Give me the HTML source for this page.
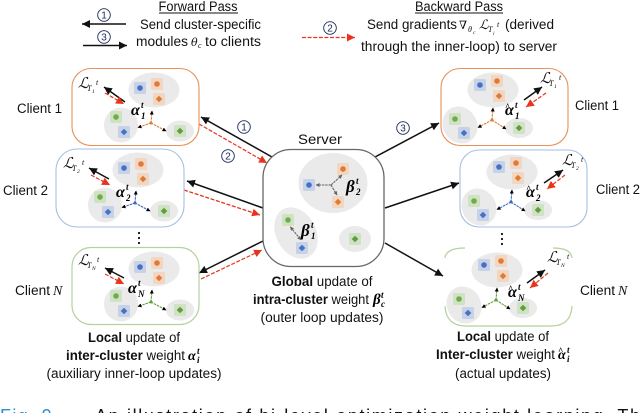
<!DOCTYPE html>
<html><head><meta charset="utf-8"><style>
html,body{margin:0;padding:0;background:#fff;width:640px;height:413px;overflow:hidden}
svg{display:block;filter:blur(.35px)}
text{font-family:"Liberation Sans",sans-serif;font-size:13.5px;fill:#111}
.c{text-anchor:middle}
.m{font-family:"DejaVu Serif","Liberation Serif",serif;font-style:italic}
.a{font-family:"Liberation Serif",serif;font-style:italic;font-weight:bold;font-size:16px;fill:#000}
.s{font-family:"Liberation Serif",serif;font-style:italic;font-weight:bold;font-size:9px;fill:#000}
.L{font-family:"DejaVu Serif",serif;font-style:italic;font-size:15px;fill:#111}
.l{font-family:"Liberation Serif",serif;font-style:italic;font-size:8px;fill:#111}
.n{font-size:10px;text-anchor:middle;fill:#1b2a5a}
.k{stroke:#111;stroke-width:1.5;fill:none}
.r{stroke:#e8341c;stroke-width:1.2;stroke-dasharray:4 1.6;fill:none}
</style></head><body>
<svg width="640" height="413" viewBox="0 0 640 413" xmlns="http://www.w3.org/2000/svg">
<defs>
<marker id="bk" markerUnits="userSpaceOnUse" markerWidth="10" markerHeight="10" refX="8" refY="4" orient="auto"><path d="M0 0L8 4L0 8Z" fill="#111"/></marker>
<marker id="rd" markerUnits="userSpaceOnUse" markerWidth="10" markerHeight="10" refX="8" refY="4" orient="auto"><path d="M0 0L8 4L0 8Z" fill="#e8341c"/></marker>
<marker id="sm" markerUnits="userSpaceOnUse" markerWidth="5" markerHeight="5" refX="3.5" refY="2" orient="auto"><path d="M0 0L4 2L0 4Z" fill="context-stroke"/></marker>
<marker id="gy" markerUnits="userSpaceOnUse" markerWidth="5" markerHeight="5" refX="3.5" refY="2" orient="auto-start-reverse"><path d="M0 0L4 2L0 4Z" fill="#666"/></marker>
<g id="bs"><rect x="-6" y="-6" width="12" height="12" rx="1.5" fill="#c7d1e8"/><circle r="2.8" fill="#4472c4"/></g>
<g id="bd"><rect x="-6" y="-6" width="12" height="12" rx="1.5" fill="#c7d1e8"/><path d="M0-3.3L3.3 0L0 3.3L-3.3 0Z" fill="#4472c4"/></g>
<g id="os"><rect x="-6" y="-6" width="12" height="12" rx="1.5" fill="#f3d6c1"/><circle r="2.8" fill="#e07b35"/></g>
<g id="od"><rect x="-6" y="-6" width="12" height="12" rx="1.5" fill="#f3d6c1"/><path d="M0-3.3L3.3 0L0 3.3L-3.3 0Z" fill="#e07b35"/></g>
<g id="gs"><rect x="-6" y="-6" width="12" height="12" rx="1.5" fill="#cfe2c4"/><circle r="2.8" fill="#70ad47"/></g>
<g id="gd"><rect x="-6" y="-6" width="12" height="12" rx="1.5" fill="#cfe2c4"/><path d="M0-3.3L3.3 0L0 3.3L-3.3 0Z" fill="#5f9e3a"/></g>
<g id="cl">
<ellipse cx="82" cy="22" rx="25.5" ry="17.5" fill="#eaeaea"/>
<ellipse cx="49" cy="57" rx="17" ry="17.5" fill="#eaeaea"/>
<ellipse cx="108" cy="63" rx="14" ry="10.5" fill="#eaeaea"/>
<use href="#bs" x="68" y="20"/><use href="#os" x="85" y="16"/><use href="#od" x="87" y="31"/>
<use href="#gs" x="44" y="49"/><use href="#bd" x="52" y="64"/><use href="#gd" x="108" y="63"/>
<g stroke="currentColor" stroke-width="1.1" stroke-dasharray="2.5 .8" fill="none">
<path d="M79 55L80 43" marker-end="url(#sm)"/><path d="M79 55L66 59.5" marker-end="url(#sm)"/><path d="M79 55L94 63" marker-end="url(#sm)"/>
</g>
<circle cx="79" cy="55" r="1.5" fill="currentColor"/>
</g>
<g id="cr">
<ellipse cx="52" cy="22" rx="25.5" ry="17.5" fill="#eaeaea"/>
<ellipse cx="19" cy="57" rx="17" ry="19" transform="rotate(-30 19 57)" fill="#eaeaea"/>
<ellipse cx="78" cy="60" rx="14" ry="10" fill="#eaeaea"/>
<use href="#bs" x="39" y="17"/><use href="#os" x="56" y="13"/><use href="#od" x="58" y="28"/>
<use href="#gs" x="14" y="51"/><use href="#bd" x="23" y="65"/><use href="#gd" x="78" y="60"/>
<g stroke="currentColor" stroke-width="1.1" stroke-dasharray="2.5 .8" fill="none">
<path d="M51 52L52 40" marker-end="url(#sm)"/><path d="M51 52L37 59.5" marker-end="url(#sm)"/><path d="M51 52L65 61" marker-end="url(#sm)"/>
</g>
<circle cx="51" cy="52" r="1.5" fill="currentColor"/>
</g>
</defs>

<!-- header -->
<text x="198" y="11" class="c" textLength="79" lengthAdjust="spacingAndGlyphs">Forward Pass</text>
<path d="M159 13H238" stroke="#111" stroke-width="1"/>
<text x="140" y="29" textLength="121" lengthAdjust="spacingAndGlyphs">Send cluster-specific</text>
<text x="136" y="46" textLength="52" lengthAdjust="spacingAndGlyphs">modules</text>
<text x="191" y="46" class="m" style="font-size:11px">θ</text>
<text x="198" y="48" class="l">c</text>
<text x="205" y="46" textLength="56" lengthAdjust="spacingAndGlyphs">to clients</text>
<circle cx="104" cy="15" r="6.3" fill="#fff" stroke="#1b2a5a" stroke-width=".9"/><text x="104" y="18.5" class="n">1</text>
<circle cx="104" cy="37" r="6.3" fill="#fff" stroke="#1b2a5a" stroke-width=".9"/><text x="104" y="40.5" class="n">3</text>
<path d="M126 24H82" class="k" marker-end="url(#bk)"/>
<path d="M83 45.5H127" class="k" marker-end="url(#bk)"/>

<text x="459" y="11" class="c" textLength="88" lengthAdjust="spacingAndGlyphs">Backward Pass</text>
<path d="M415 13H503" stroke="#111" stroke-width="1"/>
<text x="367" y="29" textLength="90" lengthAdjust="spacingAndGlyphs">Send gradients</text>
<text x="459" y="29" class="m" style="font-size:11.5px">∇</text>
<text x="468" y="32" class="l">θ</text><text x="473" y="34" class="l" style="font-size:5.5px">c</text>
<text x="479" y="29" class="L" style="font-size:13px">ℒ</text>
<text x="488" y="32" class="l">T</text><text x="493" y="35" class="l" style="font-size:5.5px">i</text><text x="497" y="27" class="l">t</text>
<text x="505" y="29" textLength="49" lengthAdjust="spacingAndGlyphs">(derived</text>
<text x="361" y="51" textLength="196" lengthAdjust="spacingAndGlyphs">through the inner-loop) to server</text>
<circle cx="330" cy="28" r="6.3" fill="#fff" stroke="#1b2a5a" stroke-width=".9"/><text x="330" y="31.5" class="n">2</text>
<path d="M302 37.5H355" class="r" marker-end="url(#rd)"/>

<!-- connectors -->
<path d="M272 157L201 117" class="k" marker-end="url(#bk)"/>
<path d="M199 124L267 163" class="r" marker-end="url(#rd)"/>
<path d="M263 208L187 181" class="k" marker-end="url(#bk)"/>
<path d="M184 190L260 215" class="r" marker-end="url(#rd)"/>
<path d="M263 241L199 273" class="k" marker-end="url(#bk)"/>
<path d="M201 279L262 250" class="r" marker-end="url(#rd)"/>
<path d="M375 157L439 123" class="k" marker-end="url(#bk)"/>
<path d="M385 208L459 183" class="k" marker-end="url(#bk)"/>
<path d="M385 243L443 276" class="k" marker-end="url(#bk)"/>
<circle cx="244" cy="127" r="6.3" fill="#fff" stroke="#1b2a5a" stroke-width=".9"/><text x="244" y="130.5" class="n">1</text>
<circle cx="228" cy="156" r="6.3" fill="#fff" stroke="#1b2a5a" stroke-width=".9"/><text x="228" y="159.5" class="n">2</text>
<circle cx="403" cy="128" r="6.3" fill="#fff" stroke="#1b2a5a" stroke-width=".9"/><text x="403" y="131.5" class="n">3</text>

<!-- left clients -->
<rect x="72" y="68.5" width="127" height="77" rx="19" fill="#fff" stroke="#e8915a" stroke-width="1.1"/>
<use href="#cl" x="72" y="68" color="#e07b35"/>
<rect x="56" y="149" width="128" height="78" rx="21" fill="#fff" stroke="#a6bfe3" stroke-width="1.1"/>
<use href="#cl" x="56" y="148" color="#3f66c0"/>
<rect x="72" y="247.5" width="127" height="77" rx="19" fill="#fff" stroke="#b4d19e" stroke-width="1.2"/>
<use href="#cl" x="72" y="247" color="#5f9e3a"/>

<!-- right clients -->
<rect x="441" y="68.5" width="127" height="77" rx="19" fill="#fff" stroke="#e8915a" stroke-width="1.1"/>
<use href="#cr" x="441" y="68" color="#e07b35"/>
<rect x="460" y="150" width="127" height="77" rx="19" fill="#fff" stroke="#a6bfe3" stroke-width="1.1"/>
<use href="#cr" x="460" y="150" color="#3f66c0"/>
<path d="M445 258Q446 248 465 248M572 258Q571 248 553 248M445 306Q446 326 466 326H551Q571 326 572 306" fill="none" stroke="#b4d19e" stroke-width="1.2"/>
<use href="#cr" x="445" y="248" color="#5f9e3a"/>

<!-- client arrows -->
<g>
<path d="M125 102L104 87" class="k" marker-end="url(#bk)"/><path d="M105 93L124 104" class="r" marker-end="url(#rd)"/>
<path d="M109 179L89 168" class="k" marker-end="url(#bk)"/><path d="M91 175L110 185" class="r" marker-end="url(#rd)"/>
<path d="M124 278L105 268" class="k" marker-end="url(#bk)"/><path d="M105 274L124 284" class="r" marker-end="url(#rd)"/>
<path d="M524 100L542 87" class="k" marker-end="url(#bk)"/><path d="M546 93L526 107" class="r" marker-end="url(#rd)"/>
<path d="M544 183L563 170" class="k" marker-end="url(#bk)"/><path d="M565 175L547 189" class="r" marker-end="url(#rd)"/>
<path d="M527 283L545 270" class="k" marker-end="url(#bk)"/><path d="M548 273L530 288" class="r" marker-end="url(#rd)"/>
</g>

<!-- loss labels -->
<text x="78" y="88" class="L">ℒ</text><text x="87" y="91" class="l">T</text><text x="92" y="93" class="l" style="font-size:5.5px">1</text><text x="96" y="85" class="l">t</text>
<text x="63" y="168" class="L">ℒ</text><text x="72" y="171" class="l">T</text><text x="77" y="173" class="l" style="font-size:5.5px">2</text><text x="82" y="165" class="l">t</text>
<text x="78" y="265" class="L">ℒ</text><text x="87" y="268" class="l">T</text><text x="92" y="270" class="l" style="font-size:5.5px">N</text><text x="97" y="262" class="l">t</text>
<text x="540" y="83" class="L">ℒ</text><text x="549" y="86" class="l">T</text><text x="554" y="88" class="l" style="font-size:5.5px">1</text><text x="559" y="80" class="l">t</text>
<text x="562" y="165" class="L">ℒ</text><text x="571" y="168" class="l">T</text><text x="576" y="170" class="l" style="font-size:5.5px">2</text><text x="581" y="162" class="l">t</text>
<text x="547" y="262" class="L">ℒ</text><text x="556" y="265" class="l">T</text><text x="561" y="267" class="l" style="font-size:5.5px">N</text><text x="567" y="259" class="l">t</text>

<!-- alpha labels -->
<text x="131" y="115" class="a">α</text><text x="141" y="108" class="s">t</text><text x="141" y="119" class="s">1</text>
<text x="116" y="197" class="a">α</text><text x="126" y="190" class="s">t</text><text x="126" y="201" class="s">2</text>
<text x="128" y="293" class="a">α</text><text x="138" y="286" class="s">t</text><text x="138" y="297" class="s">N</text>
<text x="505" y="115" class="a">α</text><text x="505" y="110" class="a" style="font-size:9px">^</text><text x="515" y="108" class="s">t</text><text x="515" y="119" class="s">1</text>
<text x="526" y="197" class="a">α</text><text x="526" y="192" class="a" style="font-size:9px">^</text><text x="536" y="190" class="s">t</text><text x="536" y="201" class="s">2</text>
<text x="508" y="297" class="a">α</text><text x="508" y="292" class="a" style="font-size:9px">^</text><text x="518" y="290" class="s">t</text><text x="518" y="301" class="s">N</text>

<!-- ellipsis dots -->
<g fill="#111"><circle cx="139" cy="233" r="1.1"/><circle cx="139" cy="238" r="1.1"/><circle cx="139" cy="243" r="1.1"/>
<circle cx="502" cy="234" r="1.1"/><circle cx="502" cy="239" r="1.1"/><circle cx="502" cy="244" r="1.1"/></g>

<!-- client names -->
<text x="17" y="113" textLength="45" lengthAdjust="spacingAndGlyphs">Client 1</text>
<text x="3" y="195" textLength="45" lengthAdjust="spacingAndGlyphs">Client 2</text>
<text x="15" y="295" textLength="35" lengthAdjust="spacingAndGlyphs">Client</text><text x="53" y="295" style="font-family:'Liberation Serif',serif;font-style:italic;font-size:14px">N</text>
<text x="575" y="110" textLength="44" lengthAdjust="spacingAndGlyphs">Client 1</text>
<text x="596" y="194" textLength="44" lengthAdjust="spacingAndGlyphs">Client 2</text>
<text x="580" y="295" textLength="35" lengthAdjust="spacingAndGlyphs">Client</text><text x="618" y="295" style="font-family:'Liberation Serif',serif;font-style:italic;font-size:14px">N</text>

<!-- server -->
<text x="320" y="144" class="c" style="font-size:14px" textLength="44" lengthAdjust="spacingAndGlyphs">Server</text>
<rect x="263" y="149.5" width="121" height="117" rx="28" fill="#fff" stroke="#666" stroke-width="1.3"/>
<ellipse cx="333" cy="183" rx="34.5" ry="30" fill="#eaeaea"/>
<ellipse cx="296" cy="233" rx="20" ry="27" transform="rotate(-28 296 233)" fill="#eaeaea"/>
<ellipse cx="355" cy="239" rx="16" ry="13" fill="#eaeaea"/>
<use href="#os" x="343" y="169"/><use href="#bs" x="309" y="185"/><use href="#od" x="338" y="202"/>
<use href="#gs" x="288" y="220"/><use href="#bd" x="302" y="248"/><use href="#gd" x="355" y="239"/>
<g stroke="#666" stroke-width="1.1" stroke-dasharray="2.5 .8" fill="none">
<path d="M331 185L342 175" marker-end="url(#gy)"/>
<path d="M331 185L316 185" marker-end="url(#gy)"/>
<path d="M331 185L337 195" marker-end="url(#gy)"/>
<path d="M292 226L299 241" marker-start="url(#gy)" marker-end="url(#gy)" transform="rotate(-14 295 233)"/>
</g>
<text x="346" y="192" class="a" style="font-size:17px">β</text><text x="356" y="184" class="s">t</text><text x="356" y="195" class="s">2</text>
<text x="301" y="236" class="a" style="font-size:17px">β</text><text x="311" y="228" class="s">t</text><text x="311" y="239" class="s">1</text>

<!-- bottom text -->
<text x="134" y="342" class="c" textLength="92" lengthAdjust="spacingAndGlyphs"><tspan font-weight="bold">Local</tspan> update of</text>
<text x="66" y="360" textLength="119" lengthAdjust="spacingAndGlyphs"><tspan font-weight="bold">inter-cluster</tspan> weight</text>
<text x="188" y="360" class="a" style="font-size:14px">α</text><text x="197" y="354" class="s">t</text><text x="197" y="363" class="s">i</text>
<text x="134" y="378" class="c" textLength="175" lengthAdjust="spacingAndGlyphs">(auxiliary inner-loop updates)</text>

<text x="322" y="286" class="c" textLength="101" lengthAdjust="spacingAndGlyphs"><tspan font-weight="bold">Global</tspan> update of</text>
<text x="253" y="304" textLength="116" lengthAdjust="spacingAndGlyphs"><tspan font-weight="bold">intra-cluster</tspan> weight</text>
<text x="373" y="304" class="a" style="font-size:15px">β</text><text x="381" y="298" class="s">t</text><text x="381" y="307" class="s">c</text>
<text x="322" y="322" class="c" textLength="123" lengthAdjust="spacingAndGlyphs">(outer loop updates)</text>

<text x="503" y="341" class="c" textLength="92" lengthAdjust="spacingAndGlyphs"><tspan font-weight="bold">Local</tspan> update of</text>
<text x="436" y="359" textLength="119" lengthAdjust="spacingAndGlyphs"><tspan font-weight="bold">Inter-cluster</tspan> weight</text>
<text x="558" y="359" class="a" style="font-size:14px">α</text><text x="558" y="354" class="a" style="font-size:9px">^</text><text x="567" y="353" class="s">t</text><text x="567" y="362" class="s">i</text>
<text x="503" y="378" class="c" textLength="96" lengthAdjust="spacingAndGlyphs">(actual updates)</text>

<!-- caption, cropped by the bottom edge -->
<text x="0" y="422" style="font-size:18px;fill:#2a8fd8" textLength="58" lengthAdjust="spacing">Fig. 9.</text>
<text x="95" y="422" style="font-size:18px;fill:#111" textLength="545" lengthAdjust="spacing">An illustration of bi-level optimization weight learning. Th</text>
</svg>
</body></html>
